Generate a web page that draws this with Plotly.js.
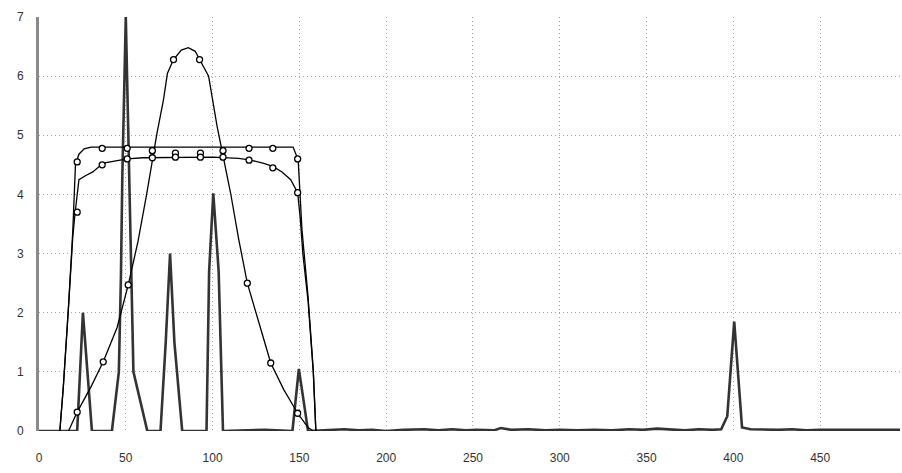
<!DOCTYPE html>
<html>
<head>
<meta charset="utf-8">
<script src="https://cdn.plot.ly/plotly-3.0.1.min.js"></script>
<style>html,body{margin:0;padding:0;background:#fff;}#chart{width:902px;height:473px;}</style>
</head>
<body>
<div id="chart"></div>
<script>
// Spectrum-like spike series (dark gray)
var spikeX = [0, 12, 22, 25.3, 30.5, 42, 46, 47.2, 48, 50, 52, 53.6, 54.4, 62.4, 70, 73, 75.5, 78, 82.5,
  96.5, 98, 100.4, 103.5, 106, 118, 130, 146, 149.7, 155,
  162, 170, 176, 184, 192, 200, 210, 222, 230, 238, 246, 252, 262, 266, 272, 282, 292, 300, 310, 320, 330,
  340, 348, 356, 364, 372, 380, 388, 393, 396.5, 400.5, 405, 410, 418, 426, 434, 442, 450, 458, 466, 474, 482, 490, 496];
var spikeY = [0, 0, 0, 2.0, 0, 0, 1.0, 2.6, 4.3, 7.0, 4.3, 2.6, 1.0, 0, 0, 1.5, 3.0, 1.5, 0,
  0, 2.7, 4.02, 2.7, 0, 0.01, 0.02, 0, 1.05, 0,
  0.01, 0.02, 0.03, 0.01, 0.02, 0.0, 0.02, 0.03, 0.01, 0.03, 0.01, 0.02, 0.01, 0.05, 0.02, 0.03, 0.01, 0.02, 0.01, 0.02, 0.01,
  0.03, 0.02, 0.04, 0.02, 0.01, 0.03, 0.02, 0.03, 0.25, 1.85, 0.06, 0.03, 0.02, 0.02, 0.03, 0.01, 0.02, 0.02, 0.03, 0.02, 0.02, 0.03, 0.02];

// Bell-shaped curve
var bellX = [17, 22, 30, 37, 45, 51.4, 57, 62, 68, 71.7, 74, 77.5, 82, 86, 90, 92.5, 95, 97.7, 102.6, 110.4, 115, 120, 127, 133.5, 141, 149, 155, 158];
var bellY = [0, 0.32, 0.75, 1.17, 1.75, 2.47, 3.2, 4.0, 5.04, 5.6, 6.05, 6.28, 6.44, 6.48, 6.42, 6.28, 6.15, 6.0, 5.15, 4.02, 3.25, 2.5, 1.8, 1.15, 0.7, 0.3, 0.06, 0];
var bellMarkX = [22, 37, 51.4, 77.5, 92.5, 120, 133.5, 149];
var bellMarkY = [0.32, 1.17, 2.47, 6.28, 6.28, 2.5, 1.15, 0.3];

// Upper flat-top curve
var upperX = [12, 14, 17, 19.5, 21, 23, 26, 30, 50, 100, 140, 146.4, 149.3, 150.4, 151.5, 155, 158, 159.5];
var upperY = [0, 0.74, 2.1, 3.4, 4.5, 4.68, 4.77, 4.8, 4.8, 4.8, 4.8, 4.8, 4.58, 3.85, 3.4, 2.27, 1.03, 0];

// Lower rounded plateau curve
var lowerX = [12, 14, 17, 19.5, 20.8, 23, 27, 31, 37, 44, 50.8, 60, 100, 115, 122, 130, 135, 140, 145, 149, 150.5, 152, 155, 158, 159.5];
var lowerY = [0, 0.74, 2.1, 3.3, 3.69, 4.25, 4.32, 4.38, 4.53, 4.57, 4.6, 4.62, 4.63, 4.61, 4.58, 4.52, 4.47, 4.38, 4.25, 4.03, 3.6, 3.0, 2.2, 1.0, 0];

var plateauMarkX = [22, 36.4, 50.8, 65.3, 78.6, 93, 106, 121, 134.7, 149];
var upperMarkY = [4.55, 4.78, 4.78, 4.74, 4.7, 4.7, 4.74, 4.78, 4.78, 4.6];
var lowerMarkY = [3.7, 4.5, 4.6, 4.62, 4.63, 4.63, 4.63, 4.58, 4.45, 4.03];

var xTicks = [0, 50, 100, 150, 200, 250, 300, 350, 400, 450];
var yTicks = [0, 1, 2, 3, 4, 5, 6, 7];

var lineBlack = {color: '#000', width: 1.3};
var markStyle = {symbol: 'circle', size: 6, color: '#fff', line: {color: '#000', width: 1.3}};

var traces = [
  {x: spikeX, y: spikeY, mode: 'lines', line: {color: '#333', width: 2.6}, hoverinfo: 'skip'},
  {x: upperX, y: upperY, mode: 'lines', line: lineBlack},
  {x: lowerX, y: lowerY, mode: 'lines', line: lineBlack},
  {x: bellX, y: bellY, mode: 'lines', line: lineBlack},
  {x: plateauMarkX, y: upperMarkY, mode: 'markers', marker: markStyle},
  {x: plateauMarkX, y: lowerMarkY, mode: 'markers', marker: markStyle},
  {x: bellMarkX, y: bellMarkY, mode: 'markers', marker: markStyle}
];

var layout = {
  width: 902, height: 473,
  margin: {l: 39, r: 2, t: 17, b: 42, pad: 0},
  paper_bgcolor: '#fff', plot_bgcolor: '#fff',
  showlegend: false,
  font: {family: 'Liberation Sans, Arial, sans-serif', size: 12, color: '#333'},
  xaxis: {
    range: [0, 496], tickvals: xTicks, ticktext: xTicks.map(String),
    showgrid: true, gridcolor: '#a8a8a8', griddash: '1px,3px', gridwidth: 1,
    zeroline: false, showline: false, ticks: '', ticklabelstandoff: 18,
    tickfont: {size: 12, color: '#333'}
  },
  yaxis: {
    range: [0, 7], tickvals: yTicks, ticktext: yTicks.map(String),
    showgrid: true, gridcolor: '#a8a8a8', griddash: '1px,3px', gridwidth: 1,
    zeroline: false, showline: true, linecolor: '#8a8a8a', linewidth: 3,
    ticks: '', ticklabelstandoff: 10,
    tickfont: {size: 12, color: '#333'}
  }
};

Plotly.newPlot('chart', traces, layout, {displayModeBar: false, staticPlot: true});
</script>
</body>
</html>
